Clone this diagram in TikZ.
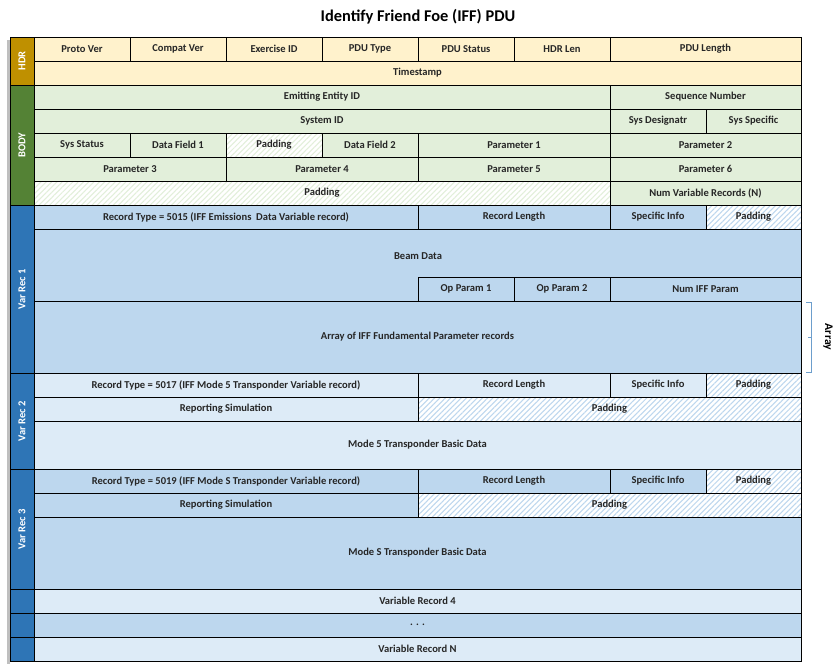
\documentclass[tikz,border=0pt]{standalone}
\usepackage{fontspec}
\setmainfont{Carlito}
\usetikzlibrary{patterns.meta}

\definecolor{hdrside}{HTML}{BF9000}
\definecolor{hdrfill}{HTML}{FFF2CC}
\definecolor{bodyside}{HTML}{548235}
\definecolor{bodyfill}{HTML}{E2EFDA}
\definecolor{recside}{HTML}{2E75B6}
\definecolor{recfill}{HTML}{BDD7EE}
\definecolor{reclight}{HTML}{DDEBF7}

\tikzset{
  cellbox/.style={draw=black, line width=0.6pt},
  celltext/.style={font=\bfseries\fontsize{9}{10}\selectfont, text=black!85},
  sidetext/.style={font=\bfseries\fontsize{9}{10}\selectfont, text=white, rotate=90},
}
% cell: x1, y1, x2, y2, fill, text
\newcommand{\cell}[6]{%
  \fill[#5] (#1,#2) rectangle (#3,#4);
  \draw[cellbox] (#1,#2) rectangle (#3,#4);
  \node[celltext] at ({(#1+#3)/2},{(#2+#4)/2}) {#6};}
% hatched cell: x1, y1, x2, y2, hatch colour, text
\newcommand{\padcell}[6]{%
  \fill[white] (#1,#2) rectangle (#3,#4);
  \fill[pattern={Lines[angle=45,distance=3.2pt,line width=0.9pt]}, pattern color=#5] (#1,#2) rectangle (#3,#4);
  \draw[cellbox] (#1,#2) rectangle (#3,#4);
  \node[celltext] at ({(#1+#3)/2},{(#2+#4)/2}) {#6};}
% side block: y1, y2, fill, text
\newcommand{\side}[4]{%
  \fill[#3] (10,#1) rectangle (34,#2);
  \draw[cellbox] (10,#1) rectangle (34,#2);
  \node[sidetext] at (22,{(#1+#2)/2}) {#4};}

\begin{document}
\begin{tikzpicture}[x=0.03cm, y=-0.03cm]
\useasboundingbox (0,0) rectangle (838,663);
%
\node[font=\bfseries\fontsize{14}{16}\selectfont] (title) at (418,17) {Identify Friend Foe (IFF) PDU};
%
\fill[black!25] (7,40) rectangle (10,664);
% header
\side{37}{85}{hdrside}{HDR}
\cell{34}{37}{130}{61}{hdrfill}{Proto Ver}
\cell{130}{37}{226}{61}{hdrfill}{Compat Ver}
\cell{226}{37}{322}{61}{hdrfill}{Exercise ID}
\cell{322}{37}{418}{61}{hdrfill}{PDU Type}
\cell{418}{37}{514}{61}{hdrfill}{PDU Status}
\cell{514}{37}{610}{61}{hdrfill}{HDR Len}
\cell{610}{37}{801}{61}{hdrfill}{PDU Length}
\cell{34}{61}{801}{85}{hdrfill}{Timestamp}
% body
\side{85}{205}{bodyside}{BODY}
\cell{34}{85}{610}{109}{bodyfill}{Emitting Entity ID}
\cell{610}{85}{801}{109}{bodyfill}{Sequence Number}
\cell{34}{109}{610}{133}{bodyfill}{System ID}
\cell{610}{109}{706}{133}{bodyfill}{Sys Designatr}
\cell{706}{109}{801}{133}{bodyfill}{Sys Specific}
\cell{34}{133}{130}{157}{bodyfill}{Sys Status}
\cell{130}{133}{226}{157}{bodyfill}{Data Field 1}
\padcell{226}{133}{322}{157}{bodyfill}{Padding}
\cell{322}{133}{418}{157}{bodyfill}{Data Field 2}
\cell{418}{133}{610}{157}{bodyfill}{Parameter 1}
\cell{610}{133}{801}{157}{bodyfill}{Parameter 2}
\cell{34}{157}{226}{181}{bodyfill}{Parameter 3}
\cell{226}{157}{418}{181}{bodyfill}{Parameter 4}
\cell{418}{157}{610}{181}{bodyfill}{Parameter 5}
\cell{610}{157}{801}{181}{bodyfill}{Parameter 6}
\padcell{34}{181}{610}{205}{bodyfill}{Padding}
\cell{610}{181}{801}{205}{bodyfill}{Num Variable Records (N)}
% variable record 1
\side{205}{373}{recside}{Var Rec 1}
\cell{34}{205}{418}{229}{recfill}{Record Type = 5015 (IFF Emissions\ \ Data Variable record)}
\cell{418}{205}{610}{229}{recfill}{Record Length}
\cell{610}{205}{706}{229}{recfill}{Specific Info}
\padcell{706}{205}{801}{229}{recfill}{Padding}
\fill[recfill] (34,229) rectangle (801,301);
\draw[cellbox] (34,229) rectangle (801,301);
\node[celltext] (beam) at (418,256) {Beam Data};
\cell{418}{277}{514}{301}{recfill}{Op Param 1}
\cell{514}{277}{610}{301}{recfill}{Op Param 2}
\cell{610}{277}{801}{301}{recfill}{Num IFF Param}
\cell{34}{301}{801}{373}{recfill}{Array of IFF Fundamental Parameter records}
% array bracket
\coordinate (arrtop) at (811,302);
\coordinate (arrbot) at (811,372);
\draw[recside!70, line width=0.6pt] ([xshift=-0.15cm]arrtop) -- (arrtop) -- (arrbot) -- ([xshift=-0.15cm]arrbot);
\draw[recside!70, line width=0.6pt] (811,337) -- (808,337);
\node[font=\bfseries\fontsize{10}{12}\selectfont, rotate=-90] (array) at (828,337) {Array};
% variable record 2
\side{373}{469}{recside}{Var Rec 2}
\cell{34}{373}{418}{397}{reclight}{Record Type = 5017 (IFF Mode 5 Transponder Variable record)}
\cell{418}{373}{610}{397}{reclight}{Record Length}
\cell{610}{373}{706}{397}{reclight}{Specific Info}
\padcell{706}{373}{801}{397}{recfill}{Padding}
\cell{34}{397}{418}{421}{reclight}{Reporting Simulation}
\padcell{418}{397}{801}{421}{recfill}{Padding}
\cell{34}{421}{801}{469}{reclight}{Mode 5 Transponder Basic Data}
% variable record 3
\side{469}{589}{recside}{Var Rec 3}
\cell{34}{469}{418}{493}{recfill}{Record Type = 5019 (IFF Mode S Transponder Variable record)}
\cell{418}{469}{610}{493}{recfill}{Record Length}
\cell{610}{469}{706}{493}{recfill}{Specific Info}
\padcell{706}{469}{801}{493}{recfill}{Padding}
\cell{34}{493}{418}{517}{recfill}{Reporting Simulation}
\padcell{418}{493}{801}{517}{recfill}{Padding}
\cell{34}{517}{801}{589}{recfill}{Mode S Transponder Basic Data}
% remaining records
\side{589}{613}{recside}{}
\cell{34}{589}{801}{613}{reclight}{Variable Record 4}
\side{613}{637}{recside}{}
\cell{34}{613}{801}{637}{recfill}{. . .}
\side{637}{661}{recside}{}
\cell{34}{637}{801}{661}{reclight}{Variable Record N}
\end{tikzpicture}
\end{document}
